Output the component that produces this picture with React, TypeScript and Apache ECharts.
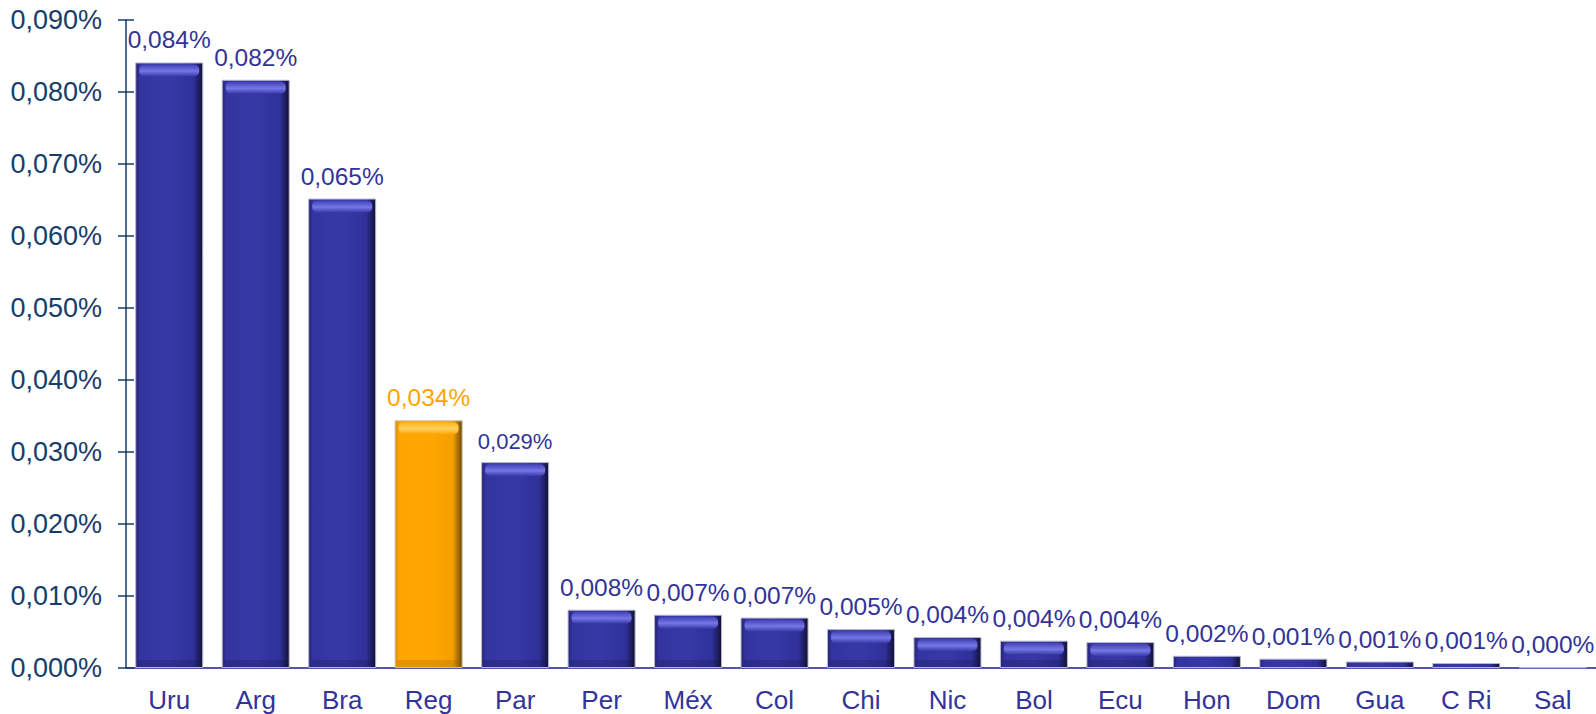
import React, { useEffect, useRef } from "react";
import * as echarts from "echarts";

const categories = ["Uru", "Arg", "Bra", "Reg", "Par", "Per", "Méx", "Col", "Chi", "Nic", "Bol", "Ecu", "Hon", "Dom", "Gua", "C Ri", "Sal"];
const values = [0.0841, 0.0817, 0.0652, 0.0344, 0.0286, 0.0081, 0.0074, 0.007, 0.0054, 0.0043, 0.0038, 0.0036, 0.0017, 0.0013, 0.0009, 0.0007, 0.0001];
const highlightCategory = "Reg";

const fmt = (v: number) => v.toFixed(3).replace(".", ",") + "%";

const blueFill = new echarts.graphic.LinearGradient(0, 0, 1, 0, [
  { offset: 0, color: "#23236e" },
  { offset: 0.06, color: "#3434a0" },
  { offset: 0.5, color: "#3838a8" },
  { offset: 0.86, color: "#30309a" },
  { offset: 1, color: "#111135" },
]);
const orangeFill = new echarts.graphic.LinearGradient(0, 0, 1, 0, [
  { offset: 0, color: "#d88a00" },
  { offset: 0.06, color: "#ffa500" },
  { offset: 0.5, color: "#ffa700" },
  { offset: 0.86, color: "#f59e00" },
  { offset: 1, color: "#6e4a08" },
]);

export default function App() {
  const ref = useRef<HTMLDivElement>(null);
  useEffect(() => {
    if (!ref.current) return;
    const chart = echarts.init(ref.current, null, { renderer: "svg" });
    const font = "'Liberation Sans', Arial, sans-serif";
    chart.setOption({
      animation: false,
      backgroundColor: "#ffffff",
      grid: { left: 126, top: 20, height: 648, width: 1472, containLabel: false },
      xAxis: [
        {
          type: "category",
          data: categories,
          axisLine: { lineStyle: { color: "#1c1c94", width: 1.5 } },
          axisTick: { length: 8, lineStyle: { color: "#1c1c94", width: 1.5 } },
          axisLabel: { color: "#333399", fontSize: 26, fontFamily: font, margin: 19 },
        },
        {
          type: "category",
          data: categories,
          position: "bottom",
          axisLine: { show: false },
          axisTick: { inside: true, length: 8, lineStyle: { color: "#1c1c94", width: 1.5 } },
          axisLabel: { show: false },
        },
      ],
      yAxis: [
        {
          type: "value",
          min: 0,
          max: 0.09,
          interval: 0.01,
          splitLine: { show: false },
          axisLine: { show: true, lineStyle: { color: "#173d6b", width: 1.5 } },
          axisTick: { show: true, length: 8, lineStyle: { color: "#173d6b", width: 1.5 } },
          axisLabel: { color: "#173d6b", fontSize: 27, fontFamily: font, margin: 24, formatter: fmt },
        },
        {
          type: "value",
          min: 0,
          max: 0.09,
          interval: 0.01,
          position: "left",
          splitLine: { show: false },
          axisLine: { show: false },
          axisTick: { show: true, inside: true, length: 8, lineStyle: { color: "#173d6b", width: 1.5 } },
          axisLabel: { show: false },
        },
      ],
      series: [
        {
          type: "bar",
          barWidth: 68,
          data: values.map((v, i) => {
            const hl = categories[i] === highlightCategory;
            return {
              value: v,
              itemStyle: {
                color: hl ? orangeFill : blueFill,
                borderColor: hl ? "#c8c0b0" : "#b8b8cc",
                borderWidth: 1,
              },
              label: {
                color: hl ? "#ffa500" : "#333399",
                fontSize: categories[i] === "Par" ? 22 : 24.5,
              },
            };
          }),
          label: {
            show: true,
            position: "top",
            distance: 10,
            fontFamily: font,
            formatter: (p: any) => fmt(p.value),
          },
        },
        {
          type: "custom",
          silent: true,
          z: 3,
          data: values.map((v, i) => [i, v]),
          renderItem: (params: any, api: any) => {
            const i = api.value(0);
            const v = api.value(1);
            const top = api.coord([i, v]);
            const base = api.coord([i, 0]);
            const h = base[1] - top[1];
            if (h < 16) return { type: "group", children: [] };
            const w = 68;
            const x = top[0] - w / 2;
            const hl = categories[i] === highlightCategory;
            return {
              type: "group",
              children: [
                {
                  type: "rect",
                  shape: { x: x + 4, y: top[1] + 2, width: w - 8, height: 12, r: 5 },
                  style: {
                    fill: new echarts.graphic.LinearGradient(0, 0, 0, 1, hl
                      ? [
                          { offset: 0, color: "#ffb21a" },
                          { offset: 0.55, color: "#ffd060" },
                          { offset: 1, color: "#ffa500" },
                        ]
                      : [
                          { offset: 0, color: "#4040b4" },
                          { offset: 0.55, color: "#7676e6" },
                          { offset: 1, color: "#3838a8" },
                        ]),
                  },
                },
                {
                  type: "rect",
                  shape: { x: x + 3, y: base[1] - 8, width: w - 6, height: 7 },
                  style: { fill: hl ? "rgba(150,90,0,0.25)" : "rgba(20,20,70,0.25)" },
                },
              ],
            };
          },
        },
      ],
    });
    return () => chart.dispose();
  }, []);
  return <div ref={ref} style={{ position: "absolute", left: 0, top: 0, width: 1596, height: 714 }} />;
}
